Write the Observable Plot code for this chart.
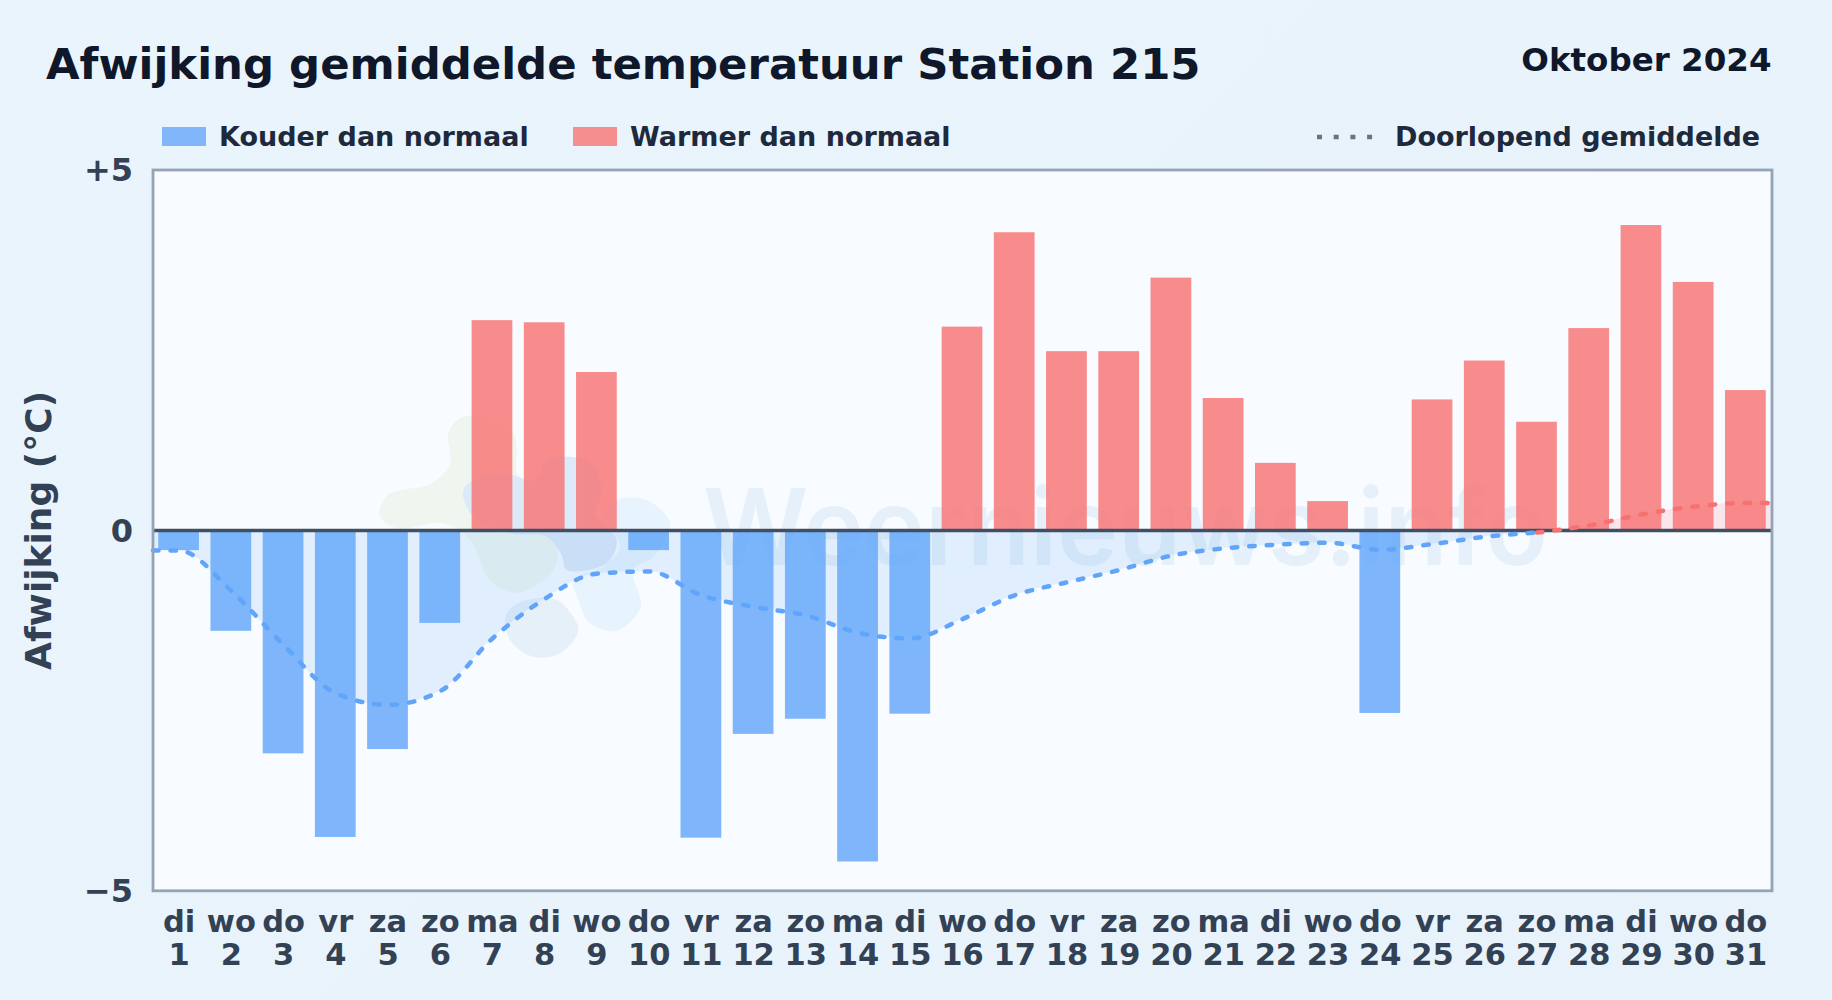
<!DOCTYPE html>
<html lang="nl"><head><meta charset="utf-8">
<script src="https://cdn.jsdelivr.net/npm/d3@7"></script>
<script src="https://cdn.jsdelivr.net/npm/@observablehq/plot@0.6"></script>
<style>
html,body{margin:0;padding:0}
body{width:1832px;height:1000px;overflow:hidden;background:linear-gradient(135deg,#e9f4fc,#e7f2fb);font-family:"DejaVu Sans",sans-serif;font-weight:700}
#page{position:relative;width:1832px;height:1000px}
.t{position:absolute;line-height:1;white-space:nowrap}
.sw{position:absolute;top:127px;width:44px;height:19px}
#chart{position:absolute;left:0;top:150px}
</style></head><body>
<div id="page">
<div class="t" style="left:46px;top:43px;font-size:43.4px;color:#0f172a">Afwijking gemiddelde temperatuur Station 215</div>
<div class="t" style="right:60.5px;top:44px;font-size:32.5px;color:#0f172a">Oktober 2024</div>
<div class="sw" style="left:162px;background:#82b6fb"></div>
<div class="t" style="left:219px;top:123px;font-size:27px;color:#1e293b">Kouder dan normaal</div>
<div class="sw" style="left:573px;background:#f58f8f"></div>
<div class="t" style="left:630px;top:123px;font-size:27px;color:#1e293b">Warmer dan normaal</div>
<svg style="position:absolute;left:1317px;top:130px" width="56" height="14"><line x1="0" y1="7" x2="56" y2="7" stroke="#64748b" stroke-width="4.5" stroke-dasharray="5 11.7"/></svg>
<div class="t" style="left:1395px;top:123px;font-size:27px;color:#1e293b">Doorlopend gemiddelde</div>
<div id="chart"></div>
</div>
<script>
const weekdays = ["di","wo","do","vr","za","zo","ma","di","wo","do","vr","za","zo","ma","di","wo","do","vr","za","zo","ma","di","wo","do","vr","za","zo","ma","di","wo","do"];
const days = d3.range(1, 32);
const deviations = [-0.28,-1.4,-3.1,-4.26,-3.04,-1.29,2.91,2.88,2.19,-0.28,-4.27,-2.83,-2.62,-4.6,-2.55,2.82,4.13,2.48,2.48,3.5,1.83,0.93,0.4,-2.54,1.81,2.35,1.5,2.8,4.23,3.44,1.94];
const runningMean = [-0.28,-0.84,-1.59,-2.26,-2.42,-2.23,-1.5,-0.95,-0.6,-0.57,-0.9,-1.06,-1.18,-1.42,-1.5,-1.23,-0.9,-0.72,-0.55,-0.35,-0.25,-0.2,-0.17,-0.27,-0.19,-0.09,-0.03,0.07,0.22,0.33,0.38];

const bars = days.map((day, i) => ({day, value: deviations[i]}));
const meanAll = [{day: 0.5, value: runningMean[0]}, ...days.map((day, i) => ({day, value: runningMean[i]})), {day: 31.5, value: runningMean[30]}];
const meanCold = meanAll.filter(d => d.day <= 27);
const meanWarm = meanAll.filter(d => d.day >= 27);

const blue = "#60a5fa", red = "#f87171";
const halfBar = 0.39;

// Decorative logo watermark behind the bars (page-level drawing, not data)
const logoLobes = [
  {fill:"#eff6ef", pts:[[300,55],[370,48],[455,90],[470,150],[470,215],[520,290],[590,420],[580,510],[470,578],[390,540],[330,420],[250,370],[110,385],[58,345],[85,285],[215,250],[270,190],[265,100]]},
  {fill:"#dce9f7", pts:[[310,270],[370,228],[450,225],[525,240],[560,180],[625,170],[700,195],[725,280],[705,340],[770,420],[740,490],[620,510],[605,465],[560,410],[450,400],[340,350]]},
  {fill:"#e8f4fd", pts:[[770,300],[860,300],[930,370],[880,470],[820,510],[842,620],[770,692],[690,670],[655,600],[640,540],[730,500],[780,440],[730,340]]},
  {fill:"#e5f0f9", pts:[[440,640],[500,600],[590,600],[625,630],[655,690],[600,760],[520,770],[450,720]]}
];
function watermark() {
  const ns = "http://www.w3.org/2000/svg";
  const g = document.createElementNS(ns, "g");
  const logo = document.createElementNS(ns, "g");
  logo.setAttribute("transform", "translate(360,250) scale(0.3333)");
  const line = d3.line().curve(d3.curveCatmullRomClosed.alpha(0.5));
  for (const lobe of logoLobes) {
    const p = document.createElementNS(ns, "path");
    p.setAttribute("d", line(lobe.pts));
    p.setAttribute("fill", lobe.fill);
    logo.appendChild(p);
  }
  g.appendChild(logo);
  const t = document.createElementNS(ns, "text");
  t.textContent = "Weernieuws.info";
  t.setAttribute("x", 703);
  t.setAttribute("y", 415);
  t.setAttribute("text-anchor", "start");
  t.setAttribute("font-family", "Inter");
  t.setAttribute("font-weight", "600");
  t.setAttribute("font-size", 106);
  t.setAttribute("textLength", 845);
  t.setAttribute("lengthAdjust", "spacingAndGlyphs");
  t.setAttribute("fill", "#3b82c4");
  t.setAttribute("fill-opacity", 0.09);
  g.appendChild(t);
  return g;
}

const curve = "monotone-x";
const dash = "5.5 12";
const plot = Plot.plot({
  width: 1832, height: 850,
  marginTop: 19.5, marginBottom: 109.7, marginLeft: 152.5, marginRight: 60.5,
  style: {background: "transparent", fontFamily: "'DejaVu Sans',sans-serif", fontWeight: 700},
  x: {domain: [0.5, 31.5], axis: null},
  y: {domain: [-5, 5], axis: null},
  marks: [
    Plot.frame({fill: "#f8fbff", stroke: null}),
    watermark,
    Plot.areaY(meanCold, {x: "day", y1: 0, y2: "value", curve, fill: blue, fillOpacity: 0.15}),
    Plot.areaY(meanWarm, {x: "day", y1: 0, y2: "value", curve, fill: red, fillOpacity: 0.15}),
    Plot.rect(bars, {x1: d => d.day - halfBar, x2: d => d.day + halfBar, y1: 0, y2: "value", fill: d => d.value < 0 ? blue : red, fillOpacity: 0.8, inset: 0}),
    Plot.ruleY([0], {stroke: "#414f65", strokeWidth: 3.5}),
    Plot.line(meanCold, {x: "day", y: "value", curve, stroke: blue, strokeWidth: 4.5, strokeDasharray: dash, strokeLinecap: "round"}),
    Plot.line(meanWarm, {x: "day", y: "value", curve, stroke: red, strokeWidth: 4.5, strokeDasharray: dash, strokeLinecap: "round"}),
    Plot.frame({stroke: "#94a3b8", strokeWidth: 2.8, fill: "none"}),
    Plot.axisY({ticks: [-5, 0, 5], tickSize: 0, tickPadding: 20, dy: 1, fontSize: 32, fontWeight: 700, color: "#334155", label: null, tickFormat: d => d > 0 ? "+5" : d < 0 ? "\u22125" : "0"}),
    Plot.axisX({ticks: days, tickSize: 0, tickPadding: 18, fontSize: 30.5, fontWeight: 700, color: "#334155", label: null, lineHeight: 1.08, tickFormat: d => `${weekdays[d - 1]}\n${d}`}),
    Plot.text(["Afwijking (\u00b0C)"], {frameAnchor: "left", textAnchor: "middle", rotate: -90, dx: -114, fontSize: 36, fontWeight: 700, fill: "#334155"})
  ]
});
document.getElementById("chart").appendChild(plot);
</script>
</body></html>
